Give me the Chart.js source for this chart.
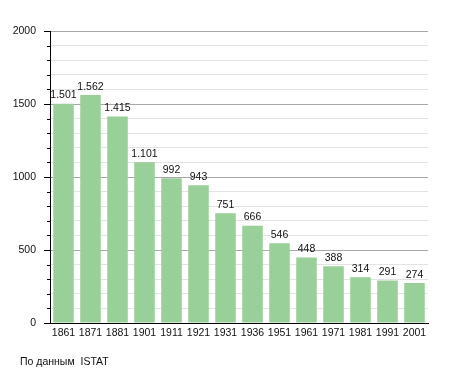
<!DOCTYPE html>
<html>
<head>
<meta charset="utf-8">
<script src="https://cdn.jsdelivr.net/npm/chart.js@4"></script>
<style>
  html, body { margin: 0; padding: 0; background: #fff; }
  #wrap { width: 455px; height: 373px; }
</style>
</head>
<body>
<div id="wrap"><canvas id="popChart" width="455" height="373"></canvas></div>
<script>
const years = ["1861", "1871", "1881", "1901", "1911", "1921", "1931", "1936", "1951", "1961", "1971", "1981", "1991", "2001"];
const population = [1501, 1562, 1415, 1101, 992, 943, 751, 666, 546, 448, 388, 314, 291, 274];
const sourceText = "По данным  ISTAT";

const FONT = "'Liberation Sans', Arial, sans-serif";

// numbers like 1.501 (dot as thousands separator)
function fmt(v) {
  return String(v).replace(/\B(?=(\d{3})+(?!\d))/g, ".");
}

const valueLabels = {
  id: "valueLabels",
  afterDatasetsDraw(chart) {
    const ctx = chart.ctx;
    const meta = chart.getDatasetMeta(0);
    ctx.save();
    ctx.font = "10.5px " + FONT;
    ctx.fillStyle = "#111";
    ctx.textAlign = "center";
    ctx.textBaseline = "bottom";
    meta.data.forEach((bar, i) => {
      ctx.fillText(fmt(population[i]), bar.x, bar.y - 3);
    });
    ctx.restore();
  }
};

// y ticks outside the axis, long ones at labelled values
const axisTicks = {
  id: "axisTicks",
  afterDraw(chart) {
    const ctx = chart.ctx;
    const y = chart.scales.y;
    const left = chart.chartArea.left;
    ctx.save();
    ctx.strokeStyle = "#000";
    ctx.lineWidth = 1;
    y.ticks.forEach(t => {
      const py = Math.round(y.getPixelForValue(t.value)) + 0.5;
      const len = t.value % 500 === 0 ? 6 : 3;
      ctx.beginPath();
      ctx.moveTo(left - len, py);
      ctx.lineTo(left, py);
      ctx.stroke();
    });
    // source note
    ctx.font = "10.5px " + FONT;
    ctx.fillStyle = "#111";
    ctx.textAlign = "left";
    ctx.textBaseline = "middle";
    ctx.fillText(sourceText, 20, 362);
    ctx.restore();
  }
};

new Chart(document.getElementById("popChart"), {
  type: "bar",
  data: {
    labels: years,
    datasets: [{
      data: population,
      backgroundColor: "#99cf99",
      borderWidth: 0,
      barPercentage: 0.76,
      categoryPercentage: 1
    }]
  },
  options: {
    responsive: false,
    animation: false,
    layout: { padding: { left: 0, right: 27, top: 31, bottom: 0 } },
    plugins: {
      legend: { display: false },
      tooltip: { enabled: false }
    },
    scales: {
      x: {
        grid: { display: false, drawTicks: false },
        border: { color: "#000", width: 1 },
        ticks: {
          color: "#111",
          font: { family: FONT, size: 10.5 },
          padding: 4,
          maxRotation: 0,
          autoSkip: false
        },
        afterFit(scale) { scale.height = 50; }
      },
      y: {
        min: 0,
        max: 2000,
        border: { color: "#000", width: 1 },
        grid: {
          drawTicks: false,
          color: c => (c.tick && c.tick.value % 500 === 0) ? "#a8a8a8" : "#e3e3e3"
        },
        ticks: {
          stepSize: 100,
          autoSkip: false,
          padding: 14,
          color: "#111",
          font: { family: FONT, size: 10.5 },
          callback: v => v % 500 === 0 ? v : ""
        },
        afterFit(scale) { scale.width = 50; }
      }
    }
  },
  plugins: [valueLabels, axisTicks]
});
</script>
</body>
</html>
